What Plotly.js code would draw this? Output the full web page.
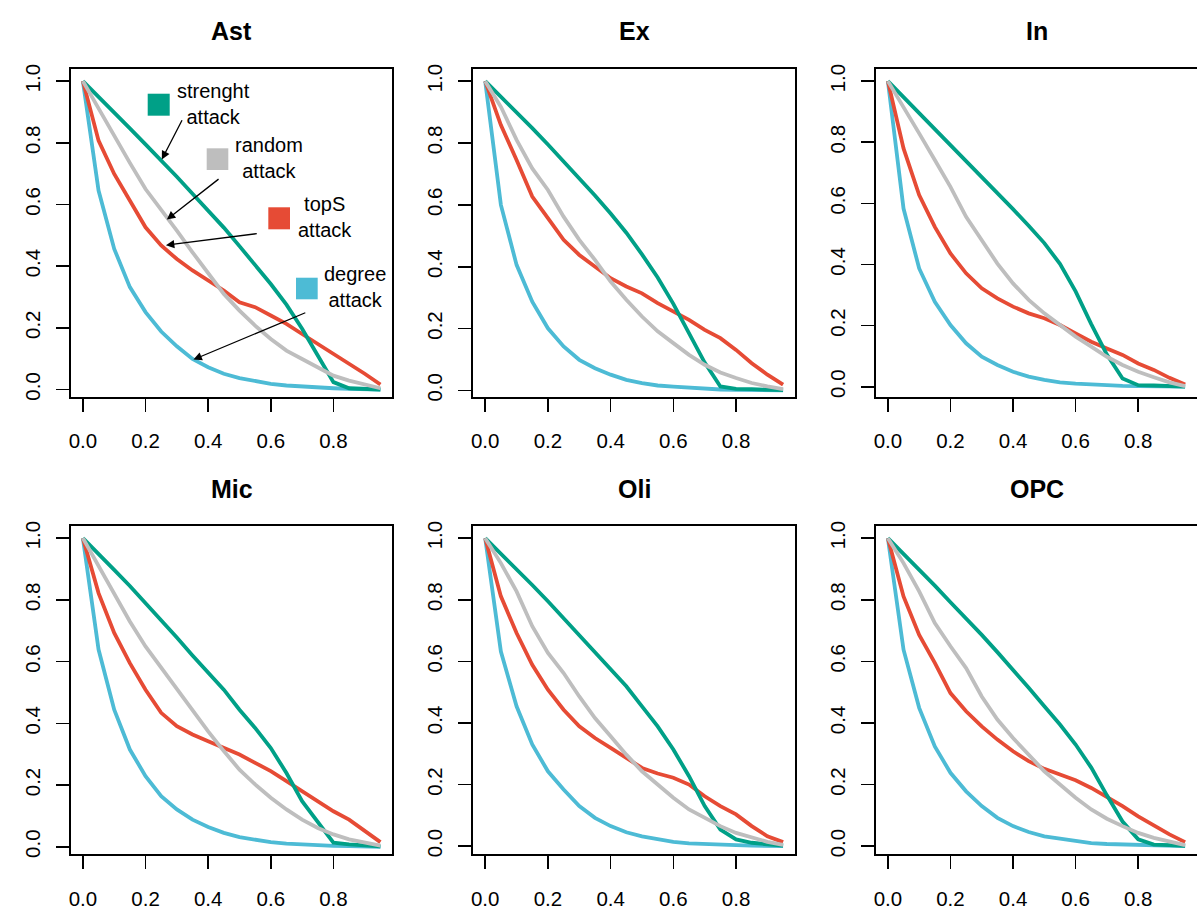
<!DOCTYPE html>
<html>
<head>
<meta charset="utf-8">
<script src="https://cdn.plot.ly/plotly-3.0.1.min.js"></script>
<style>html,body{margin:0;padding:0;background:#fff;}#chart{width:1197px;height:917px;}</style>
</head>
<body>
<div id="chart"></div>
<script>
// ---- data ----
const fraction = [0, 0.05, 0.1, 0.15, 0.2, 0.25, 0.3, 0.35, 0.4, 0.45, 0.5, 0.55, 0.6, 0.65, 0.7, 0.75, 0.8, 0.85, 0.9, 0.95];

const panelNames = ['Ast', 'Ex', 'In', 'Mic', 'Oli', 'OPC'];
const seriesNames = ['degree attack', 'topS attack', 'strenght attack', 'random attack'];
const seriesColors = ['#4DBBD5', '#E64B35', '#00A087', '#BEBEBE'];

const ast_degree   = [1, 0.645, 0.456, 0.332, 0.251, 0.188, 0.140, 0.099, 0.072, 0.051, 0.037, 0.026, 0.018, 0.013, 0.009, 0.006, 0.004, 0.002, 0.001, 0.0];
const ast_topS     = [1, 0.807, 0.699, 0.612, 0.526, 0.467, 0.423, 0.386, 0.353, 0.321, 0.283, 0.267, 0.240, 0.213, 0.180, 0.148, 0.116, 0.083, 0.051, 0.016];
const ast_strength = [1, 0.950, 0.898, 0.847, 0.795, 0.744, 0.690, 0.635, 0.580, 0.525, 0.465, 0.405, 0.342, 0.275, 0.197, 0.110, 0.024, 0.004, 0.002, 0.0];
const ast_random   = [1, 0.910, 0.820, 0.735, 0.650, 0.585, 0.515, 0.445, 0.375, 0.310, 0.256, 0.207, 0.164, 0.126, 0.099, 0.072, 0.045, 0.029, 0.015, 0.004];

const ex_degree    = [1, 0.600, 0.406, 0.287, 0.201, 0.142, 0.099, 0.072, 0.051, 0.034, 0.024, 0.016, 0.012, 0.008, 0.005, 0.003, 0.002, 0.001, 0.0005, 0.0];
const ex_topS      = [1, 0.858, 0.745, 0.627, 0.557, 0.487, 0.438, 0.400, 0.363, 0.336, 0.314, 0.282, 0.255, 0.228, 0.196, 0.169, 0.131, 0.088, 0.051, 0.019];
const ex_strength  = [1, 0.950, 0.900, 0.848, 0.795, 0.741, 0.686, 0.630, 0.572, 0.510, 0.440, 0.365, 0.280, 0.182, 0.090, 0.013, 0.005, 0.004, 0.003, 0.001];
const ex_random    = [1, 0.917, 0.810, 0.718, 0.648, 0.562, 0.487, 0.422, 0.352, 0.293, 0.239, 0.191, 0.153, 0.115, 0.083, 0.058, 0.040, 0.024, 0.013, 0.004];

const in_degree    = [1, 0.583, 0.387, 0.278, 0.202, 0.142, 0.098, 0.071, 0.049, 0.033, 0.022, 0.014, 0.010, 0.007, 0.005, 0.003, 0.002, 0.001, 0.0005, 0.0];
const in_topS      = [1, 0.780, 0.627, 0.523, 0.436, 0.371, 0.322, 0.289, 0.262, 0.240, 0.224, 0.202, 0.174, 0.147, 0.125, 0.104, 0.076, 0.055, 0.029, 0.007];
const in_strength  = [1, 0.948, 0.896, 0.844, 0.792, 0.740, 0.688, 0.635, 0.581, 0.527, 0.470, 0.402, 0.312, 0.205, 0.105, 0.027, 0.005, 0.004, 0.002, 0.0];
const in_random    = [1, 0.916, 0.829, 0.742, 0.654, 0.556, 0.480, 0.403, 0.338, 0.284, 0.240, 0.202, 0.164, 0.131, 0.098, 0.071, 0.049, 0.031, 0.014, 0.002];

const mic_degree   = [1, 0.639, 0.444, 0.315, 0.229, 0.164, 0.121, 0.088, 0.064, 0.045, 0.031, 0.022, 0.015, 0.010, 0.007, 0.005, 0.003, 0.002, 0.001, 0.0];
const mic_topS     = [1, 0.822, 0.693, 0.595, 0.509, 0.434, 0.391, 0.364, 0.342, 0.320, 0.299, 0.272, 0.245, 0.213, 0.180, 0.148, 0.115, 0.088, 0.051, 0.015];
const mic_strength = [1, 0.950, 0.897, 0.845, 0.790, 0.735, 0.678, 0.620, 0.565, 0.509, 0.444, 0.385, 0.320, 0.239, 0.148, 0.078, 0.013, 0.008, 0.004, 0.001];
const mic_random   = [1, 0.910, 0.820, 0.730, 0.649, 0.579, 0.509, 0.439, 0.374, 0.310, 0.250, 0.202, 0.159, 0.121, 0.088, 0.061, 0.040, 0.024, 0.013, 0.004];

const oli_degree   = [1, 0.632, 0.454, 0.330, 0.243, 0.184, 0.130, 0.092, 0.065, 0.045, 0.032, 0.022, 0.014, 0.009, 0.006, 0.004, 0.003, 0.002, 0.001, 0.0];
const oli_topS     = [1, 0.811, 0.692, 0.589, 0.508, 0.443, 0.389, 0.351, 0.319, 0.286, 0.254, 0.236, 0.222, 0.200, 0.162, 0.130, 0.103, 0.065, 0.032, 0.013];
const oli_strength = [1, 0.950, 0.900, 0.848, 0.795, 0.740, 0.686, 0.630, 0.578, 0.519, 0.454, 0.389, 0.314, 0.227, 0.130, 0.054, 0.022, 0.011, 0.006, 0.002];
const oli_random   = [1, 0.919, 0.827, 0.714, 0.627, 0.562, 0.486, 0.416, 0.357, 0.297, 0.243, 0.200, 0.157, 0.119, 0.092, 0.065, 0.043, 0.027, 0.014, 0.004];

const opc_degree   = [1, 0.638, 0.449, 0.324, 0.238, 0.178, 0.130, 0.092, 0.065, 0.046, 0.032, 0.024, 0.016, 0.010, 0.007, 0.005, 0.003, 0.002, 0.001, 0.0];
const opc_topS     = [1, 0.811, 0.686, 0.595, 0.497, 0.438, 0.389, 0.346, 0.308, 0.276, 0.251, 0.232, 0.214, 0.189, 0.160, 0.130, 0.097, 0.067, 0.038, 0.013];
const opc_strength = [1, 0.950, 0.900, 0.846, 0.792, 0.740, 0.686, 0.630, 0.573, 0.514, 0.454, 0.395, 0.330, 0.255, 0.165, 0.080, 0.022, 0.005, 0.003, 0.001];
const opc_random   = [1, 0.919, 0.827, 0.724, 0.649, 0.578, 0.486, 0.411, 0.351, 0.297, 0.243, 0.200, 0.157, 0.119, 0.089, 0.065, 0.043, 0.027, 0.014, 0.003];

const xTickVals = [0, 0.2, 0.4, 0.6, 0.8];
const xTickText = ['0.0', '0.2', '0.4', '0.6', '0.8'];
const yTickVals = [0, 0.2, 0.4, 0.6, 0.8, 1.0];
const yTickText = ['0.0', '0.2', '0.4', '0.6', '0.8', '1.0'];

const panelData = [
  [ast_degree, ast_topS, ast_strength, ast_random],
  [ex_degree, ex_topS, ex_strength, ex_random],
  [in_degree, in_topS, in_strength, in_random],
  [mic_degree, mic_topS, mic_strength, mic_random],
  [oli_degree, oli_topS, oli_strength, oli_random],
  [opc_degree, opc_topS, opc_strength, opc_random]
];

// ---- layout geometry (pixels) ----
const W = 1197, H = 917;
const colPx = [[71, 392.3], [473.3, 795], [876, 1197]];
const rowPx = [[69, 396.7], [526, 854.3]];
const FONT = 'Liberation Sans, Arial, Helvetica, sans-serif';

const traces = [];
const layout = {
  width: W, height: H,
  margin: {l: 0, r: 0, t: 0, b: 0},
  paper_bgcolor: '#ffffff', plot_bgcolor: '#ffffff',
  showlegend: false,
  hovermode: false,
  font: {family: FONT, size: 20, color: '#000'},
  annotations: [], shapes: []
};

panelNames.forEach((name, i) => {
  const r = Math.floor(i / 3), c = i % 3;
  const n = i + 1;
  const xa = 'x' + (n === 1 ? '' : n), ya = 'y' + (n === 1 ? '' : n);
  const xk = 'xaxis' + (n === 1 ? '' : n), yk = 'yaxis' + (n === 1 ? '' : n);
  const series = panelData[i];
  // R-style ranges: first plotted series (topS) defines ylim, 4% padding
  const ymin = Math.min(...series[1]), ymax = Math.max(...series[1]);
  const xmin = Math.min(...fraction), xmax = Math.max(...fraction);
  const yp = 0.04 * (ymax - ymin), xp = 0.04 * (xmax - xmin);

  layout[xk] = {
    domain: [colPx[c][0] / W, colPx[c][1] / W],
    anchor: ya, range: [xmin - xp, xmax + xp],
    showgrid: false, zeroline: false,
    showline: true, mirror: true, linecolor: '#000', linewidth: 2,
    ticks: 'outside', ticklen: 13, tickwidth: 1.6, tickcolor: '#000',
    tickvals: xTickVals, ticktext: xTickText,
    tickfont: {family: FONT, size: 20.5, color: '#000'},
    ticklabelstandoff: 12, automargin: false, fixedrange: true
  };
  layout[yk] = {
    domain: [1 - rowPx[r][1] / H, 1 - rowPx[r][0] / H],
    anchor: xa, range: [ymin - yp, ymax + yp],
    showgrid: false, zeroline: false,
    showline: true, mirror: true, linecolor: '#000', linewidth: 2,
    ticks: 'outside', ticklen: 13, tickwidth: 1.6, tickcolor: '#000',
    tickvals: yTickVals, ticktext: yTickText, tickangle: -90,
    tickfont: {family: FONT, size: 20.5, color: '#000'},
    ticklabelstandoff: 8, automargin: false, fixedrange: true
  };

  // draw order: degree, topS, strength, random
  series.forEach((ys, k) => {
    traces.push({
      type: 'scatter', mode: 'lines', x: fraction, y: ys,
      xaxis: xa, yaxis: ya, name: seriesNames[k],
      line: {color: seriesColors[k], width: 3.8}, hoverinfo: 'skip'
    });
  });

  // panel title
  layout.annotations.push({
    text: '<b>' + name + '</b>', xref: 'paper', yref: 'paper',
    x: (colPx[c][0] + colPx[c][1]) / 2 / W,
    y: 1 - (r === 0 ? 30.5 : 489) / H,
    xanchor: 'center', yanchor: 'middle', showarrow: false,
    font: {family: FONT, size: 25, color: '#000'}
  });
});

// ---- key inside the Ast panel ----
const keyLabels = ['strenght<br>attack', 'random<br>attack', 'topS<br>attack', 'degree<br>attack'];
const keyColors = ['#00A087', '#BEBEBE', '#E64B35', '#4DBBD5'];
const keySquares = [[0.2387, 0.3072, 0.8575, 0.9246], [0.4223, 0.4896, 0.6918, 0.758], [0.6141, 0.6816, 0.5108, 0.578], [0.7003, 0.7678, 0.2972, 0.3631]];
const keyText = [[0.4429, 0.8947], [0.6153, 0.7284], [0.7912, 0.5484], [0.8839, 0.3347]];
const keyArrowHead = [[0.252, 0.746], [0.268, 0.551], [0.265, 0.468], [0.353, 0.097]];
const keyArrowTail = [[0.319, 0.878], [0.438, 0.686], [0.560, 0.506], [0.715, 0.251]];

keyLabels.forEach((lab, k) => {
  const s = keySquares[k];
  layout.shapes.push({
    type: 'rect', xref: 'x domain', yref: 'y domain',
    x0: s[0], x1: s[1], y0: s[2], y1: s[3],
    fillcolor: keyColors[k], line: {width: 0}, layer: 'above'
  });
  layout.annotations.push({
    text: lab, xref: 'x domain', yref: 'y domain',
    x: keyText[k][0], y: keyText[k][1], xanchor: 'center', yanchor: 'middle',
    align: 'center', showarrow: false,
    font: {family: FONT, size: 20, color: '#000'}
  });
  layout.annotations.push({
    text: '', xref: 'x', yref: 'y', axref: 'x', ayref: 'y',
    x: keyArrowHead[k][0], y: keyArrowHead[k][1],
    ax: keyArrowTail[k][0], ay: keyArrowTail[k][1],
    showarrow: true, arrowhead: 2, arrowsize: 1.3, arrowwidth: 1.3,
    arrowcolor: '#000', standoff: 0, startstandoff: 0
  });
});

Plotly.newPlot('chart', traces, layout, {staticPlot: true, displayModeBar: false});
</script>
</body>
</html>
